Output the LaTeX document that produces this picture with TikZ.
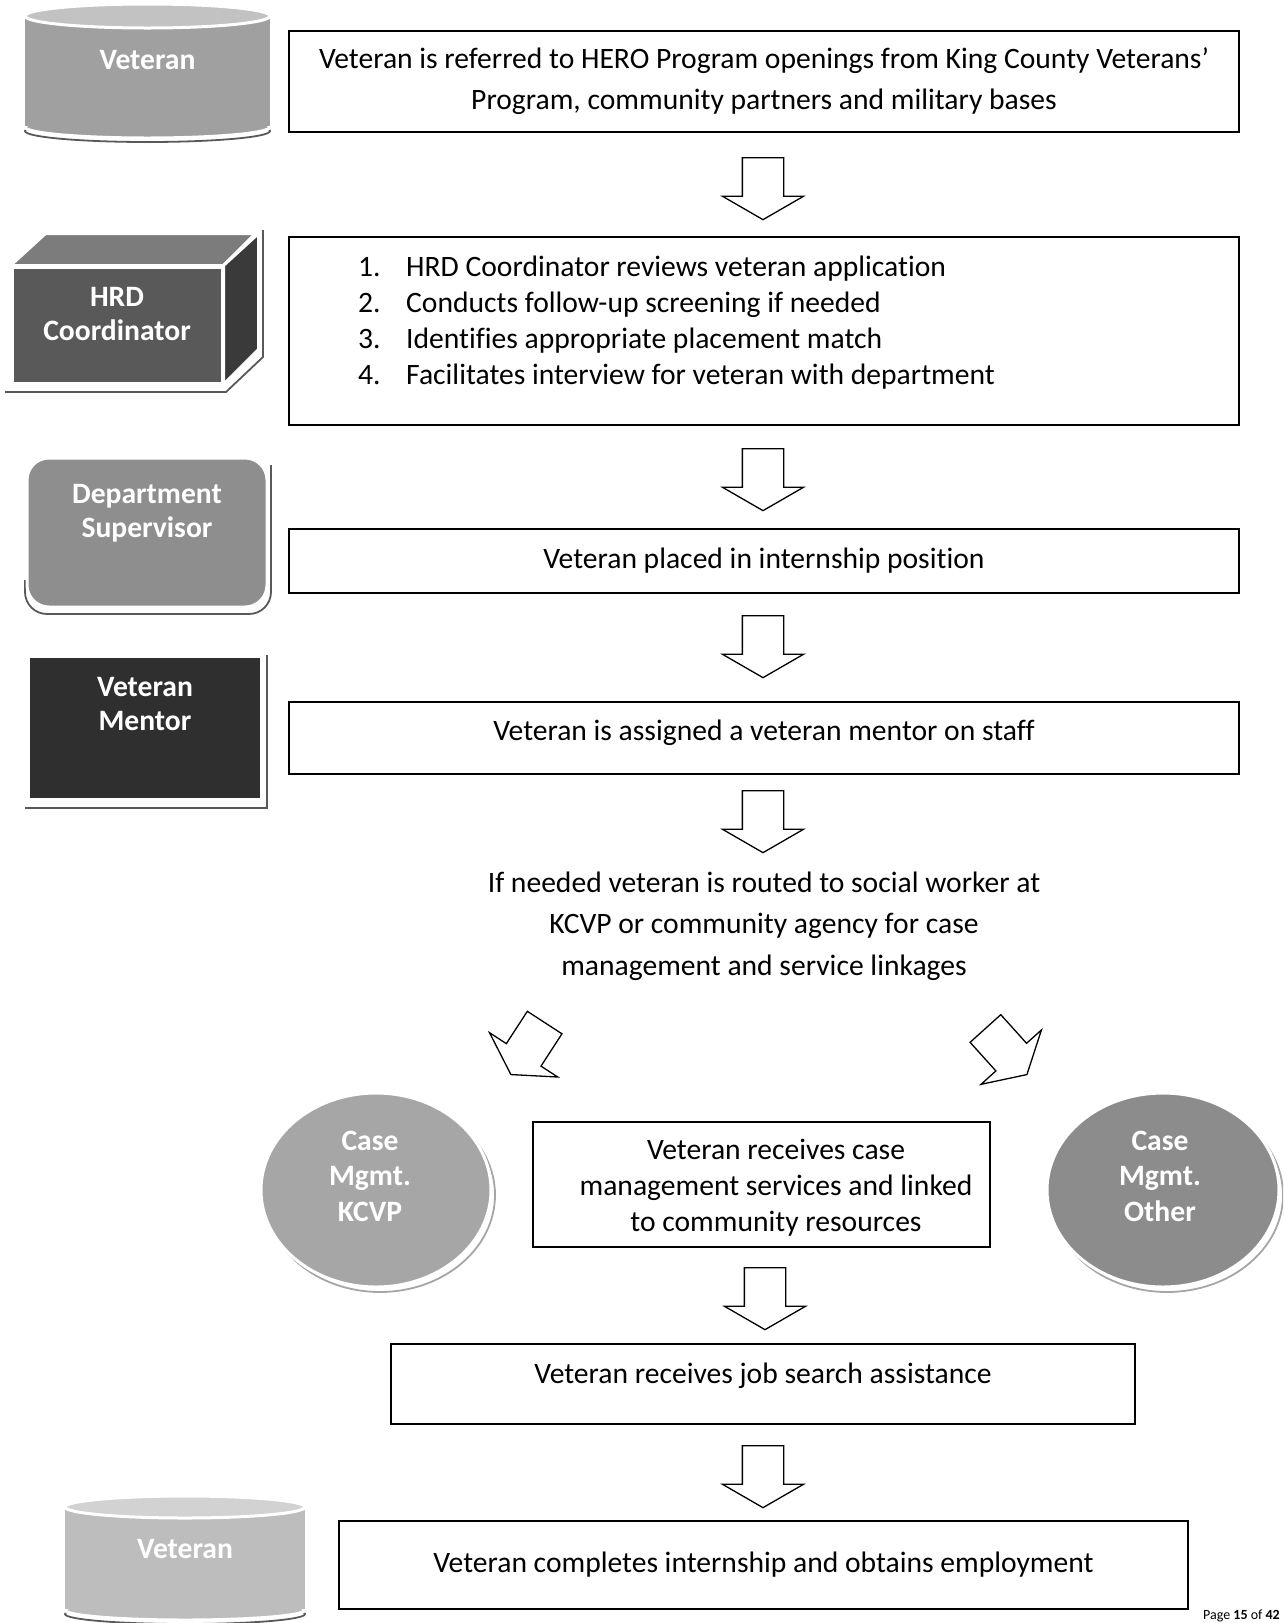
\documentclass[tikz,border=0pt]{standalone}
\usepackage{fontspec}
\setmainfont{Carlito}[Ligatures={TeX,NoCommon}]
\usetikzlibrary{shapes.arrows,shapes.geometric,positioning}

\definecolor{cylbody}{HTML}{A0A0A0}
\definecolor{cyltop}{HTML}{C2C2C2}
\definecolor{cyllight}{HTML}{BDBDBD}
\definecolor{cyllighttop}{HTML}{D2D2D2}
\definecolor{hrdfront}{HTML}{595959}
\definecolor{hrdtop}{HTML}{7C7C7C}
\definecolor{hrdside}{HTML}{3A3A3A}
\definecolor{supgray}{HTML}{8E8E8E}
\definecolor{mentorgray}{HTML}{2F2F2F}
\definecolor{kcvpgray}{HTML}{A6A6A6}
\definecolor{othergray}{HTML}{8C8C8C}

\tikzset{
  stepbox/.style={draw, line width=1.4pt, align=center, inner sep=0pt},
  steptext/.style={align=center, inner sep=0pt},
  blockarrow/.style={single arrow, draw, line width=1.3pt, fill=white, inner xsep=10pt, inner ysep=20pt,
    minimum height=62pt, single arrow head extend=20pt, single arrow tip angle=120},
  dnarrow/.style={blockarrow, rotate=270, anchor=tail},
  roletext/.style={text=white, font=\bfseries\fontsize{29.6}{34}\selectfont, align=center, inner sep=0pt},
  roleshape/.style={draw=white, line width=3pt},
  shadowline/.style={draw=black!65, line width=1.8pt},
  rimline/.style={draw=black!35, line width=1.8pt},
}

\begin{document}
\begin{tikzpicture}[x=1pt, y=-1pt, font=\fontsize{29.6}{36}\selectfont]
\useasboundingbox (0,0) rectangle (1283,1623);
\clip (0,0) rectangle (1283,1623);

% left column: who does it
\draw[shadowline] (147.5,131) ellipse [x radius=122.5, y radius=11];
\filldraw[fill=cylbody, draw=white, line width=3pt] (147.5,127) ellipse [x radius=122.5, y radius=11];
\fill[cylbody] (25,16) rectangle (270,126);
\filldraw[fill=cyltop, roleshape] (147.5,16) ellipse [x radius=122.5, y radius=12];
\node[roletext] (vettop) at (147.5,60) {Veteran};

\draw[shadowline] (5,392) -- (226,392) -- (263,357) -- (263,230);
\node[roleshape, fill=hrdfront, minimum width=210pt, minimum height=116pt] (hrd) at (117,325) {};
\filldraw[fill=hrdtop, roleshape] (hrd.north west) -- ++(35,-32) -- ++(210,0) -- (hrd.north east) -- cycle;
\filldraw[fill=hrdside, roleshape] (hrd.north east) -- ++(35,-32) -- ++(0,116) -- (hrd.south east) -- cycle;
\node[roletext] (hrdtext) at (117,314) {HRD\\Coordinator};

\draw[shadowline, rounded corners=22pt] (25,580) -- (25,614) -- (271,614) -- (271,465);
\node[roleshape, fill=supgray, rounded corners=22pt, minimum width=240pt, minimum height=149pt] (sup) at (147,532.5) {};
\node[roletext] (suptext) at (147,513) {Department\\Supervisor};

\draw[shadowline] (25,808) -- (267,808) -- (267,655);
\node[fill=mentorgray, minimum width=230pt, minimum height=140pt] (mentor) at (145,728) {};
\node[roletext] (mentortext) at (145,704) {Veteran\\Mentor};

% right column: the steps
\node[stepbox, minimum width=950pt, minimum height=101pt, font=\fontsize{29.6}{41}\selectfont] (referred) at (764,81.5)
  {Veteran is referred to HERO Program openings from King County Veterans’\\Program, community partners and military bases};
\node[dnarrow] (a1) at (763,157) {};

\node[stepbox, minimum width=950pt, minimum height=188pt] (review) at (764,331) {};
\node[anchor=north west, align=left, inner sep=0pt] (steps) at (358,256) {%
  \makebox[48pt][l]{1.}HRD Coordinator reviews veteran application\\
  \makebox[48pt][l]{2.}Conducts follow-up screening if needed\\
  \makebox[48pt][l]{3.}Identifies appropriate placement match\\
  \makebox[48pt][l]{4.}Facilitates interview for veteran with department};
\node[dnarrow] (a2) at (763,448) {};

\node[stepbox, minimum width=950pt, minimum height=64pt] (placed) at (764,561) {Veteran placed in internship position};
\node[dnarrow] (a3) at (763,615) {};

\node[stepbox, minimum width=950pt, minimum height=72pt] (assigned) at (764,738) {};
\node[steptext] (assignedtext) at (764,733) {Veteran is assigned a veteran mentor on staff};
\node[dnarrow] (a4) at (763,790) {};

\node[steptext, font=\fontsize{29.6}{41.5}\selectfont] (routed) at (764,926)
  {If needed veteran is routed to social worker at\\KCVP or community agency for case\\management and service linkages};

\node[blockarrow, rotate=237, anchor=tail] (aleft) at (545,1022) {};
\node[blockarrow, rotate=312, anchor=tail] (aright) at (985,1028) {};

\draw[rimline] (380,1195) ellipse [x radius=115, y radius=97];
\node[ellipse, roleshape, fill=kcvpgray, minimum width=230pt, minimum height=194pt, inner sep=0pt] (kcvp) at (376,1190) {};
\node[roletext, font=\bfseries\fontsize{29.6}{35.5}\selectfont] (kcvptext) at (370,1176) {Case\\Mgmt.\\KCVP};
\draw[rimline] (1167,1195) ellipse [x radius=116, y radius=97];
\node[ellipse, roleshape, fill=othergray, minimum width=232pt, minimum height=194pt, inner sep=0pt] (other) at (1163,1190) {};
\node[roletext, font=\bfseries\fontsize{29.6}{35.5}\selectfont] (othertext) at (1160,1176) {Case\\Mgmt.\\Other};

\node[stepbox, minimum width=457pt, minimum height=125pt] (linked) at (761.5,1184.5) {};
\node[steptext] (linkedtext) at (776,1188)
  {Veteran receives case\\management services and linked\\to community resources};
\node[dnarrow] (a5) at (765,1267) {};

\node[stepbox, minimum width=744pt, minimum height=80pt] (jobsearch) at (763,1384) {};
\node[steptext] (jobsearchtext) at (763,1376) {Veteran receives job search assistance};
\node[dnarrow] (a6) at (763,1445) {};

\node[stepbox, minimum width=849pt, minimum height=88pt] (employed) at (763.5,1565) {Veteran completes internship and obtains employment};

% bottom veteran
\draw[shadowline] (185,1614) ellipse [x radius=120, y radius=10];
\filldraw[fill=cyllight, draw=white, line width=3pt] (185,1610) ellipse [x radius=120, y radius=10];
\fill[cyllight] (65,1507) rectangle (305,1609);
\filldraw[fill=cyllighttop, roleshape] (185,1507) ellipse [x radius=120, y radius=11];
\node[roletext] (vetbottom) at (185,1549) {Veteran};

\node[anchor=base east, inner sep=0pt, font=\fontsize{14}{16}\selectfont] (page) at (1280,1619) {Page \textbf{15} of \textbf{42}};
\end{tikzpicture}
\end{document}
